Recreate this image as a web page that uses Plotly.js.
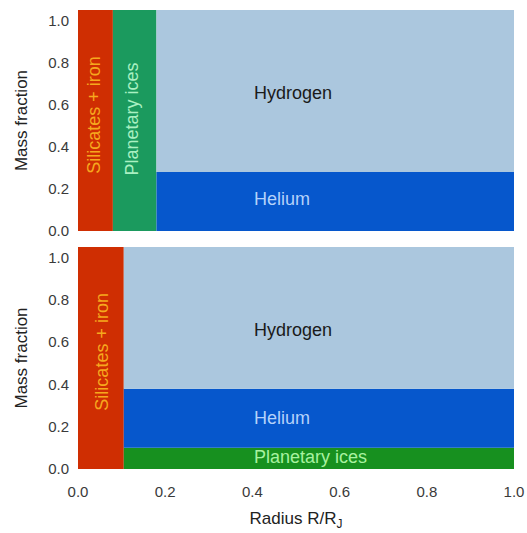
<!DOCTYPE html>
<html>
<head>
<meta charset="utf-8">
<script src="https://cdn.plot.ly/plotly-3.0.1.min.js"></script>
<style>html,body{margin:0;padding:0;background:#fff;}#chart{width:527px;height:533px;}</style>
</head>
<body>
<div id="chart"></div>
<script>
// Layer names
const layerNames = ['Silicates + iron', 'Planetary ices', 'Helium', 'Hydrogen'];
// Top panel: radius bounds and mass-fraction bounds per layer
const topR0 = [0, 0.08, 0.18, 0.18];
const topR1 = [0.08, 0.18, 1.0, 1.0];
const topF0 = [0, 0, 0, 0.28];
const topF1 = [1.05, 1.05, 0.28, 1.05];
// Bottom panel
const botR0 = [0, 0.105, 0.105, 0.105];
const botR1 = [0.105, 1.0, 1.0, 1.0];
const botF0 = [0, 0, 0.10, 0.38];
const botF1 = [1.05, 0.10, 0.38, 1.05];
// Label positions (radius, mass fraction)
const topLabelR = [0.035, 0.124, 0.4, 0.4];
const topLabelF = [0.553, 0.53, 0.15, 0.658];
const botLabelR = [0.055, 0.4, 0.4, 0.4];
const botLabelF = [0.555, 0.057, 0.242, 0.659];
const tickVals = [0, 0.2, 0.4, 0.6, 0.8, 1.0];

const topFill = ['#cf2e02', '#1b9a5e', '#0657cc', '#abc7de'];
const botFill = ['#cf2e02', '#17901f', '#0657cc', '#abc7de'];
const topText = ['#f6a81e', '#a9f0c2', '#b4d2fa', '#1a1a1a'];
const botText = ['#f6a81e', '#a8f2a0', '#b4d2fa', '#1a1a1a'];
const topRot = [-90, -90, 0, 0];
const botRot = [-90, 0, 0, 0];

const FONT = 'Liberation Sans, Arial, Helvetica, sans-serif';
const traces = [];
function addRects(r0, r1, f0, f1, fills, xa, ya) {
  for (let i = 0; i < r0.length; i++) {
    traces.push({
      type: 'scatter', mode: 'lines', fill: 'toself',
      x: [r0[i], r1[i], r1[i], r0[i], r0[i]],
      y: [f0[i], f0[i], f1[i], f1[i], f0[i]],
      fillcolor: fills[i], line: {width: 0, color: fills[i]},
      xaxis: xa, yaxis: ya, hoverinfo: 'skip', showlegend: false
    });
  }
}
addRects(topR0, topR1, topF0, topF1, topFill, 'x', 'y');
addRects(botR0, botR1, botF0, botF1, botFill, 'x2', 'y2');

const annotations = [];
function addLabels(lr, lf, colors, rots, xa, ya) {
  for (let i = 0; i < layerNames.length; i++) {
    annotations.push({
      x: lr[i], y: lf[i], xref: xa, yref: ya, text: layerNames[i],
      showarrow: false, textangle: rots[i],
      xanchor: rots[i] === 0 ? 'left' : 'center', yanchor: 'middle',
      font: {family: FONT, size: 18, color: colors[i]}
    });
  }
}
addLabels(topLabelR, topLabelF, topText, topRot, 'x', 'y');
addLabels(botLabelR, botLabelF, botText, botRot, 'x2', 'y2');

const tickFont = {family: FONT, size: 15, color: '#3a3a3a'};
const titleFont = {family: FONT, size: 17, color: '#222'};
const yBase = {
  range: [0, 1.05], tickvals: tickVals, tickformat: '.1f', showgrid: false,
  zeroline: false, showline: false, ticks: '', tickfont: tickFont, ticklabelstandoff: 8,
  title: {text: 'Mass fraction', font: titleFont, standoff: 16}, fixedrange: true
};
const layout = {
  width: 527, height: 533,
  margin: {l: 78, r: 13, t: 10, b: 64},
  paper_bgcolor: '#ffffff', plot_bgcolor: '#ffffff',
  showlegend: false,
  xaxis: {domain: [0, 1], range: [0, 1], anchor: 'y', showticklabels: false,
          showgrid: false, zeroline: false, showline: false, ticks: ''},
  yaxis: Object.assign({}, yBase, {domain: [0.5185, 1], anchor: 'x'}),
  xaxis2: {domain: [0, 1], range: [0, 1], anchor: 'y2', tickvals: tickVals, tickformat: '.1f',
           showgrid: false, zeroline: false, showline: false, ticks: '', tickfont: tickFont,
           ticklabelstandoff: 12,
           title: {text: 'Radius R/R<sub>J</sub>', font: titleFont, standoff: 13}},
  yaxis2: Object.assign({}, yBase, {domain: [0, 0.4837], anchor: 'x2'}),
  annotations: annotations
};
Plotly.newPlot('chart', traces, layout, {displayModeBar: false, staticPlot: true});
</script>
</body>
</html>
